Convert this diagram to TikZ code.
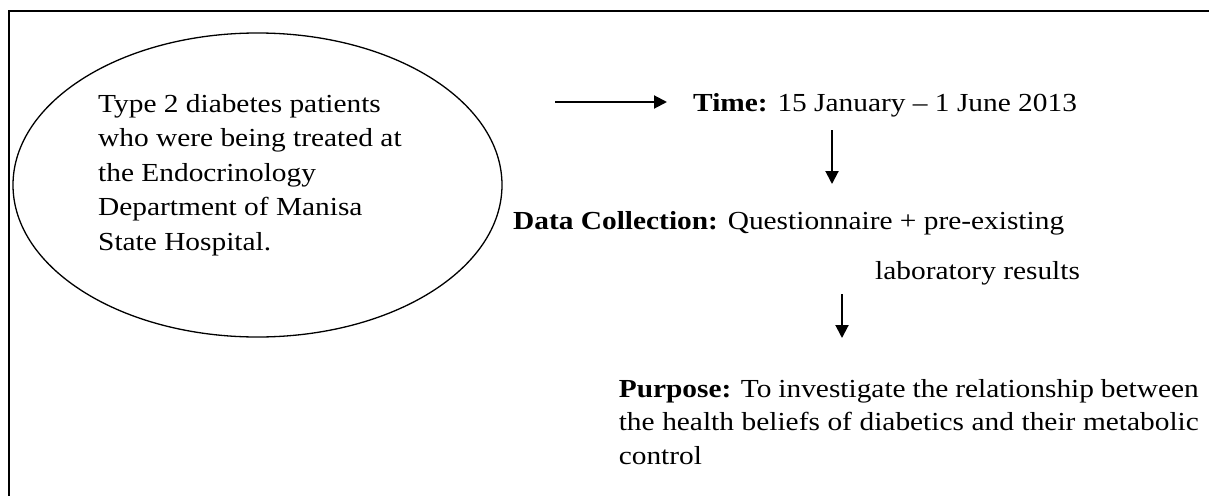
\documentclass[tikz,border=0pt]{standalone}
\usepackage{fontspec}
\setmainfont{Liberation Serif}[FakeStretch=1.13]
\usetikzlibrary{shapes.geometric,arrows.meta}
\tikzset{
  txt/.style={anchor=base west,inner sep=0pt,font=\fontsize{26}{34}\selectfont},
  arr/.style={-{Triangle[length=13pt,width=13pt]},line width=2pt},
}
\begin{document}
\begin{tikzpicture}[x=1pt,y=-1pt]
\clip (0,0) rectangle (1209,495);
\draw[line width=2.5pt] (9,11) rectangle (1230,520);
\node[draw,ellipse,line width=1.3pt,minimum width=489pt,minimum height=304pt,inner sep=0pt] (pop) at (257.5,185) {};
\node[txt] (l1) at (98,112) {Type 2 diabetes patients};
\node[txt] (l2) at (98,146.5) {who were being treated at};
\node[txt] (l3) at (98,181) {the Endocrinology};
\node[txt] (l4) at (98,215.5) {Department of Manisa};
\node[txt] (l5) at (98,250) {State Hospital.};
\coordinate (a0) at (555,102);
\coordinate (a1) at (667,102);
\node[txt] (time) at (693,111) {\textbf{Time:} 15 January -- 1 June 2013};
\draw[arr] (a0) -- (a1);
\coordinate (b0) at (832,130);
\coordinate (b1) at (832,184);
\node[txt] (data) at (513,229) {\textbf{Data Collection:} Questionnaire + pre-existing};
\draw[arr] (b0) -- (b1);
\node[txt] (lab) at (875,279) {laboratory results};
\coordinate (c0) at (842,294);
\coordinate (c1) at (842,338);
\draw[arr] (c0) -- (c1);
\node[anchor=base east,inner sep=0pt] (purp) at (1199,397) {\parbox[t]{580pt}{\fontsize{26}{33.5}\selectfont\textbf{Purpose:} To investigate the relationship between\linebreak the health beliefs of diabetics and their metabolic\linebreak control}};
\end{tikzpicture}
\end{document}
